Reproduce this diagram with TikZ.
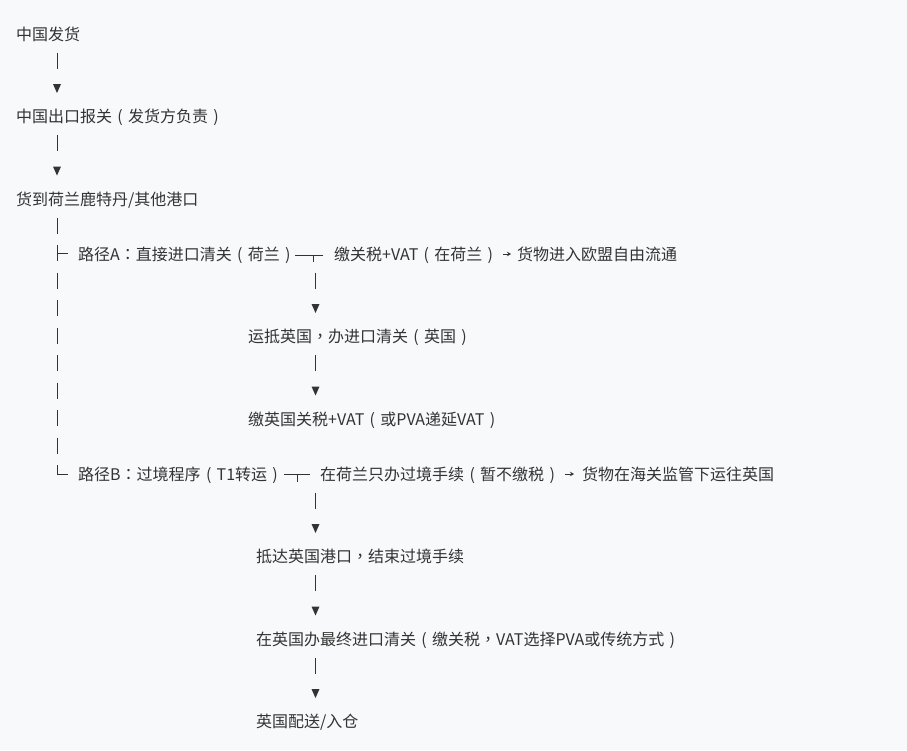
\documentclass[tikz,border=0pt]{standalone}
\usepackage{fontspec}
\setmainfont{Noto Sans CJK SC}
\newfontfamily\punctfont{Noto Sans CJK TC}
\usetikzlibrary{arrows.meta}
\definecolor{bg}{HTML}{F8F9FA}
\definecolor{ink}{HTML}{333333}
\newcommand\zlp{\makebox[1em][c]{(}}
\newcommand\zrp{\makebox[1em][c]{)}}
\newcommand\zcm{{\punctfont ，}}
\newcommand\zcl{{\punctfont ：}}
\tikzset{
  lbl/.style={anchor=base west, inner sep=0pt, text=ink, font=\fontsize{16}{16}\selectfont},
  gl/.style={draw=ink, line width=1pt},
  smallarrow/.style={draw=ink, line width=0.9pt, -{Stealth[length=4pt,width=4.5pt]}},
}
\newcommand\mybar[2]{\draw[gl] (#1,#2-8) -- (#1,#2+8);}
\newcommand\mytri[2]{\fill[ink] (#1-4,#2-4) -- (#1+4,#2-4) -- (#1,#2+5) -- cycle;}
\begin{document}
\begin{tikzpicture}[x=1pt,y=-1pt]
\fill[bg] (0,0) rectangle (907,750);
\useasboundingbox (0,0) rectangle (907,750);

% text nodes
\node[lbl] (s1) at (16,40) {中国发货};
\node[lbl] (s2) at (16,122.5) {中国出口报关\zlp 发货方负责\zrp};
\node[lbl] (s3) at (16,205) {货到荷兰鹿特丹/其他港口};
\node[lbl] (a0) at (78,260) {路径A\zcl 直接进口清关\zlp 荷兰\zrp};
\node[lbl] (a1) at (334,260) {缴关税+VAT\zlp 在荷兰\zrp};
\node[lbl] (a2) at (517,260) {货物进入欧盟自由流通};
\node[lbl] (a3) at (248,342.5) {运抵英国\zcm 办进口清关\zlp 英国\zrp};
\node[lbl] (a4) at (248,425) {缴英国关税+VAT\zlp 或PVA递延VAT\zrp};
\node[lbl] (b0) at (78,480) {路径B\zcl 过境程序\zlp T1转运\zrp};
\node[lbl] (b1) at (320,480) {在荷兰只办过境手续\zlp 暂不缴税\zrp};
\node[lbl] (b2) at (582,480) {货物在海关监管下运往英国};
\node[lbl] (b3) at (256,562.5) {抵达英国港口\zcm 结束过境手续};
\node[lbl] (b4) at (256,645) {在英国办最终进口清关\zlp 缴关税\zcm VAT选择PVA或传统方式\zrp};
\node[lbl] (b5) at (256,727.5) {英国配送/入仓};

% main column
\mybar{57}{60.5} \mytri{57}{88}
\mybar{57}{143} \mytri{57}{170.5}
\mybar{57}{225.5}
% branch A
\draw[gl] (57,245) -- (57,261);
\draw[gl] (57,253) -- (68,253);
\draw[gl] (295,255) -- (323,255);
\draw[gl] (313,255) -- (313,262);
\draw[smallarrow] (503,254) -- (511,254);
\mybar{315.5}{280.5} \mytri{315.5}{308}
\mybar{315.5}{363} \mytri{315.5}{390.5}
% left trunk
\mybar{57}{280.5} \mybar{57}{308} \mybar{57}{335.5} \mybar{57}{363}
\mybar{57}{390.5} \mybar{57}{418} \mybar{57}{445.5}
% branch B
\draw[gl] (57,465) -- (57,474) -- (68,474);
\draw[gl] (284,474) -- (310,474);
\draw[gl] (297,474) -- (297,482);
\draw[smallarrow] (565,474) -- (574,474);
\mybar{315.5}{500.5} \mytri{315.5}{528}
\mybar{315.5}{583} \mytri{315.5}{610.5}
\mybar{315.5}{665.5} \mytri{315.5}{693}
\end{tikzpicture}
\end{document}
